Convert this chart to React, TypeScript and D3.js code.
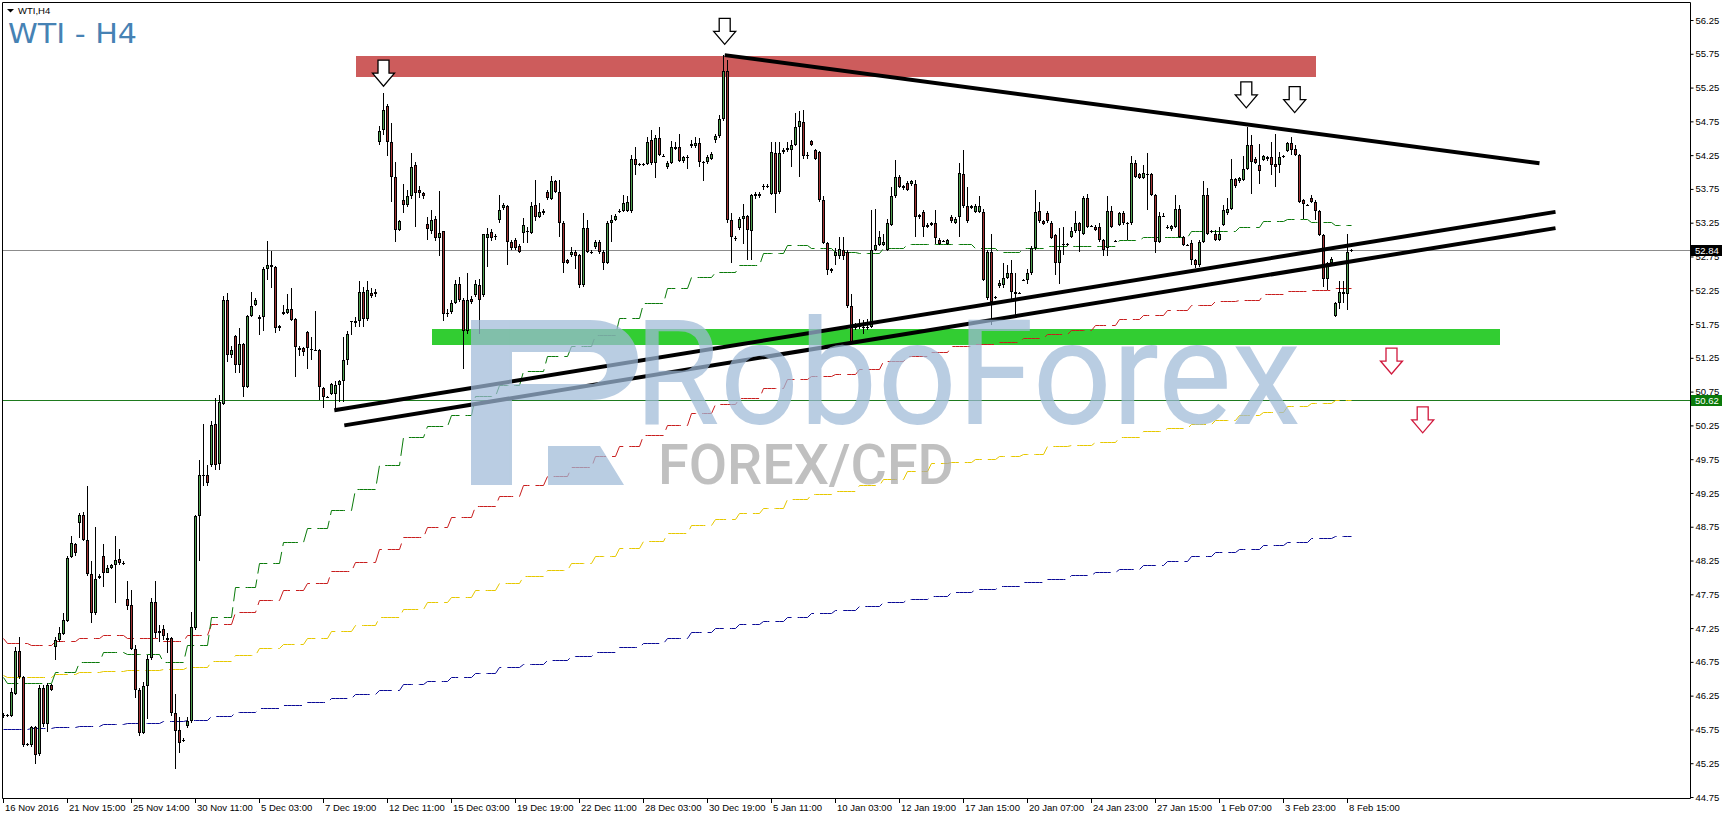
import { useEffect, useRef } from 'react';
import * as d3 from 'd3';

type Bar = [number, number, number, number]; // open, high, low, close

const W = 1729;
const H = 822;

// H4 bars, oldest first
const novBars: Bar[] = [
  [45.95, 45.99, 45.92, 45.97], [45.95, 45.98, 45.93, 45.96], [45.95, 46.36, 45.94, 46.30], [46.28, 46.97, 46.26, 46.91],
  [46.91, 47.12, 46.50, 46.53], [46.53, 46.54, 45.49, 45.52], [45.53, 45.55, 45.50, 45.52], [45.52, 45.80, 45.49, 45.79],
  [45.79, 45.80, 45.24, 45.37], [45.39, 46.41, 45.35, 46.37], [46.37, 46.41, 45.79, 45.83], [45.83, 46.43, 45.71, 46.41],
  [46.41, 46.42, 46.32, 46.33], [46.97, 47.12, 46.78, 47.08], [47.07, 47.27, 47.05, 47.18], [47.16, 47.48, 47.15, 47.37],
  [47.36, 48.31, 47.34, 48.28], [48.30, 48.61, 48.28, 48.51], [48.50, 48.51, 48.31, 48.36], [48.81, 48.96, 48.58, 48.92],
  [48.92, 48.97, 48.54, 48.56], [48.56, 49.35, 48.02, 48.05], [48.05, 48.25, 47.33, 47.47], [47.48, 48.74, 47.45, 47.97],
  [47.99, 48.05, 47.97, 48.02], [48.32, 48.49, 47.86, 48.07], [48.07, 48.18, 48.06, 48.14], [48.14, 48.20, 48.12, 48.18],
  [48.18, 48.61, 47.62, 48.26], [48.27, 48.42, 48.18, 48.21], [48.21, 48.24, 48.18, 48.21], [47.68, 47.94, 47.52, 47.57],
  [47.59, 47.81, 46.92, 46.94], [46.94, 47.00, 46.21, 46.33], [46.33, 46.36, 45.65, 45.70], [45.70, 46.45, 45.68, 46.40],
  [46.40, 46.85, 45.90, 46.79], [46.80, 47.70, 46.78, 47.64], [47.64, 47.94, 47.10, 47.17], [47.20, 47.30, 47.05, 47.18],
  [47.23, 47.30, 47.07, 47.14], [47.08, 47.17, 46.88, 47.11], [47.10, 47.12, 45.95, 45.99], [45.99, 46.27, 45.17, 45.73],
  [45.74, 45.93, 45.40, 45.55], [45.58, 45.62, 45.56, 45.60], [45.80, 45.93, 45.77, 45.88], [45.88, 47.49, 45.84, 47.26],
  [47.25, 48.92, 47.22, 48.91], [48.91, 49.74, 48.25, 49.52], [49.52, 50.27, 49.35, 49.50], [49.51, 49.66, 49.35, 49.39],
];

const decBars: Bar[] = [
  [49.66, 50.31, 49.64, 50.26], [50.27, 50.65, 49.59, 49.66], [49.68, 50.70, 49.59, 50.59], [50.57, 52.16, 50.55, 52.11],
  [52.11, 52.21, 51.19, 51.29], [51.29, 51.42, 51.25, 51.37], [51.57, 51.59, 51.03, 51.15], [51.15, 51.69, 51.02, 51.46],
  [51.46, 51.47, 50.67, 50.82], [50.82, 51.89, 50.81, 51.87], [51.87, 52.23, 51.86, 52.02], [52.03, 52.13, 52.01, 52.11],
  [51.86, 51.89, 51.59, 51.83], [51.85, 52.60, 51.64, 52.57], [52.56, 52.98, 52.40, 52.63], [52.63, 52.83, 52.29, 52.59],
  [52.59, 52.61, 51.62, 51.69], [51.69, 51.74, 51.65, 51.72], [51.90, 52.03, 51.88, 51.93], [51.92, 52.20, 51.90, 51.97],
  [51.98, 52.28, 51.80, 51.81], [51.82, 51.84, 50.97, 51.41], [51.39, 51.42, 51.28, 51.37], [51.39, 51.41, 51.27, 51.34],
  [51.63, 51.64, 51.09, 51.39], [51.38, 51.56, 51.22, 51.38], [51.37, 51.94, 51.35, 51.37], [51.37, 51.38, 50.63, 50.82],
  [50.81, 50.82, 50.51, 50.67], [50.67, 50.69, 50.65, 50.67], [50.72, 50.88, 50.70, 50.86], [50.72, 50.90, 50.48, 50.85],
  [50.85, 50.92, 50.60, 50.90], [50.90, 51.56, 50.60, 51.22], [51.22, 51.65, 51.15, 51.60], [51.78, 51.80, 51.59, 51.79],
  [51.80, 51.85, 51.70, 51.77], [51.79, 52.38, 51.71, 52.23], [52.23, 52.30, 51.71, 51.83], [51.83, 52.38, 51.80, 52.26],
  [52.21, 52.28, 52.14, 52.16], [52.20, 52.27, 52.15, 52.22], [54.45, 54.68, 54.40, 54.60], [54.62, 55.17, 54.55, 54.92],
  [54.97, 55.00, 54.23, 54.45], [54.45, 54.72, 53.56, 53.93], [53.93, 54.15, 52.97, 53.14], [53.14, 53.29, 53.12, 53.27],
  [53.59, 53.83, 53.39, 53.51], [53.51, 53.73, 53.48, 53.64], [53.64, 54.28, 53.60, 54.08], [54.10, 54.15, 53.19, 53.69],
  [53.74, 53.80, 53.62, 53.69], [53.69, 53.71, 53.60, 53.64], [53.23, 53.34, 53.00, 53.15], [53.12, 53.44, 53.08, 53.29],
  [53.30, 53.35, 52.98, 53.03], [53.03, 53.72, 52.75, 53.10], [53.12, 53.12, 51.79, 51.90], [51.90, 51.97, 51.85, 51.92],
  [51.93, 52.10, 51.90, 52.06], [52.06, 52.40, 52.04, 52.35], [52.35, 52.45, 52.08, 52.10], [52.10, 52.14, 51.08, 51.64],
  [51.64, 52.50, 51.60, 52.10], [52.12, 52.16, 52.04, 52.08], [52.18, 52.40, 52.15, 52.35], [52.33, 52.41, 51.61, 52.11],
  [52.18, 53.09, 52.15, 53.09], [53.02, 53.17, 52.60, 53.09], [53.11, 53.15, 52.98, 53.02], [53.05, 53.08, 53.00, 53.04],
  [53.29, 53.66, 53.25, 53.44], [53.47, 53.54, 53.44, 53.51], [53.50, 53.51, 52.62, 52.97], [52.97, 53.00, 52.85, 52.87],
  [53.00, 53.02, 52.84, 52.87], [52.90, 52.93, 52.80, 52.82], [53.10, 53.32, 52.95, 53.22], [53.12, 53.19, 52.95, 53.12],
  [53.10, 53.55, 53.08, 53.50], [53.51, 53.88, 53.27, 53.34], [53.34, 53.54, 53.32, 53.41], [53.39, 53.45, 53.37, 53.43],
  [53.71, 53.73, 53.58, 53.61], [53.60, 53.94, 53.58, 53.86], [53.86, 53.88, 53.69, 53.71], [53.70, 53.88, 53.04, 53.25],
  [53.25, 53.27, 52.50, 52.66], [52.70, 52.72, 52.64, 52.66], [52.77, 52.89, 52.74, 52.82], [52.82, 52.84, 52.57, 52.76],
  [52.77, 52.79, 52.28, 52.33], [52.33, 53.39, 52.30, 53.17], [53.17, 53.29, 52.80, 52.82], [52.81, 52.84, 52.78, 52.81],
  [52.89, 53.00, 52.86, 52.96], [52.97, 53.00, 52.79, 52.81], [52.82, 52.84, 52.55, 52.66], [52.66, 53.27, 52.64, 53.24],
  [53.24, 53.36, 52.97, 53.29], [53.29, 53.38, 53.27, 53.35], [53.42, 53.45, 53.40, 53.43], [53.43, 53.66, 53.41, 53.54],
  [53.43, 53.64, 53.41, 53.55], [53.43, 54.25, 53.40, 54.19], [54.20, 54.37, 53.96, 54.10], [54.11, 54.14, 54.09, 54.12],
  [54.12, 54.13, 54.09, 54.11], [54.12, 54.52, 54.10, 54.45], [54.47, 54.62, 54.10, 54.13], [54.13, 54.55, 53.91, 54.51],
  [54.51, 54.67, 54.23, 54.25], [54.24, 54.26, 54.22, 54.24], [54.07, 54.16, 54.05, 54.14], [54.14, 54.46, 54.12, 54.37],
  [54.37, 54.45, 54.33, 54.34], [54.37, 54.56, 54.15, 54.17], [54.17, 54.24, 54.13, 54.22], [54.22, 54.25, 54.05, 54.22],
  [54.38, 54.47, 54.35, 54.42], [54.38, 54.52, 54.36, 54.43], [54.43, 54.50, 54.08, 54.15], [54.15, 54.17, 53.86, 54.15],
  [54.15, 54.25, 54.12, 54.22], [54.20, 54.30, 54.18, 54.27],
];

const janBars: Bar[] = [
  [54.48, 54.57, 54.43, 54.53], [54.53, 54.84, 54.50, 54.79], [54.79, 55.73, 54.75, 55.49], [55.49, 55.66, 53.25, 53.29],
  [53.29, 53.39, 52.65, 53.04], [53.02, 53.05, 52.98, 53.02], [53.17, 53.33, 53.14, 53.31], [53.31, 53.53, 52.94, 53.35],
  [53.35, 53.37, 52.70, 53.14], [53.12, 53.68, 52.70, 53.66], [53.64, 53.70, 53.60, 53.68], [53.64, 53.71, 53.62, 53.68],
  [53.79, 53.83, 53.73, 53.80], [53.80, 53.82, 53.77, 53.80], [53.68, 54.45, 53.66, 54.29], [54.28, 54.45, 53.39, 53.68],
  [53.71, 54.45, 53.68, 54.28], [54.30, 54.35, 54.27, 54.32], [54.32, 54.45, 54.30, 54.36], [54.32, 54.47, 54.08, 54.40],
  [54.40, 54.87, 54.38, 54.67], [54.67, 54.91, 53.93, 54.76], [54.74, 54.92, 54.20, 54.24], [54.25, 54.30, 54.20, 54.25],
  [54.46, 54.47, 54.38, 54.40], [54.32, 54.34, 54.18, 54.20], [54.29, 54.31, 53.55, 53.59], [53.59, 53.64, 52.93, 52.95],
  [52.95, 52.97, 52.48, 52.55], [52.56, 52.58, 52.50, 52.54], [52.75, 52.87, 52.62, 52.82], [52.75, 53.04, 52.72, 52.86],
  [52.85, 53.04, 52.70, 52.75], [52.82, 52.85, 51.99, 52.01], [52.01, 52.20, 51.46, 51.49], [51.73, 51.76, 51.66, 51.69],
  [51.70, 51.83, 51.68, 51.72], [51.71, 51.81, 51.61, 51.71], [51.71, 51.83, 51.66, 51.71], [51.71, 53.44, 51.69, 52.85],
  [52.85, 53.45, 52.83, 52.92], [52.92, 53.12, 52.90, 53.04], [52.92, 53.09, 52.90, 52.97], [52.85, 53.31, 52.83, 53.24],
  [53.22, 53.78, 53.20, 53.64], [53.64, 54.18, 53.62, 53.93], [53.93, 53.96, 53.76, 53.78], [53.79, 53.81, 53.74, 53.77],
  [53.84, 53.86, 53.72, 53.74], [53.82, 53.88, 53.80, 53.86], [53.83, 53.88, 53.04, 53.34], [53.36, 53.38, 53.30, 53.33],
  [53.41, 53.44, 53.04, 53.19], [53.19, 53.24, 53.17, 53.22], [53.24, 53.26, 53.20, 53.22], [53.24, 53.44, 52.94, 53.02],
  [53.00, 53.02, 52.92, 52.94], [52.98, 53.00, 52.96, 52.98], [52.94, 53.01, 52.92, 52.99], [53.34, 53.36, 53.25, 53.27],
  [53.25, 53.33, 53.23, 53.31], [53.34, 54.13, 53.04, 53.98], [53.97, 54.32, 53.47, 53.49], [53.49, 53.78, 53.25, 53.27],
  [53.47, 53.51, 53.45, 53.49], [53.41, 53.52, 53.39, 53.49], [53.41, 53.64, 53.39, 53.49], [53.41, 53.46, 52.38, 52.40],
  [52.13, 52.85, 52.10, 52.82], [52.82, 53.08, 51.74, 52.07], [52.15, 52.17, 52.12, 52.15], [52.31, 52.40, 52.28, 52.36],
  [52.33, 52.65, 52.28, 52.43], [52.43, 52.62, 52.41, 52.50], [52.50, 52.70, 52.08, 52.23], [52.23, 52.50, 51.88, 52.20],
  [52.21, 52.23, 52.19, 52.21], [52.40, 52.42, 52.38, 52.40], [52.40, 52.57, 52.35, 52.50], [52.50, 52.90, 52.48, 52.87],
  [52.87, 53.73, 52.85, 53.41], [53.43, 53.56, 53.25, 53.27], [53.27, 53.29, 53.21, 53.23], [53.40, 53.42, 53.25, 53.27],
  [53.24, 53.27, 53.01, 53.03], [53.07, 53.09, 52.48, 52.66], [52.66, 53.17, 52.35, 52.85], [52.93, 53.19, 52.77, 52.93],
  [52.93, 52.95, 52.91, 52.93], [53.04, 53.19, 53.02, 53.13], [53.12, 53.43, 53.10, 53.24], [53.24, 53.26, 52.82, 53.12],
  [53.09, 53.64, 53.07, 53.61], [53.61, 53.68, 53.17, 53.19], [53.20, 53.22, 53.18, 53.20], [53.19, 53.21, 53.12, 53.14],
  [53.19, 53.24, 52.97, 52.99], [52.99, 53.01, 52.75, 52.85], [52.87, 53.64, 52.75, 53.43], [53.43, 53.49, 53.17, 53.19],
  [52.98, 53.00, 52.96, 52.98], [53.22, 53.41, 53.20, 53.40], [53.40, 53.42, 53.22, 53.24], [53.24, 53.26, 52.99, 53.24],
  [53.24, 54.23, 53.22, 54.14], [54.14, 54.18, 53.91, 53.93], [53.97, 53.99, 53.89, 53.91], [53.91, 54.10, 53.89, 53.98],
  [53.97, 54.28, 53.44, 53.97], [53.97, 53.99, 53.64, 53.66], [53.66, 53.68, 52.80, 52.97], [52.97, 53.41, 52.95, 53.35],
  [53.35, 53.40, 53.33, 53.35], [53.17, 53.21, 53.15, 53.19], [53.15, 53.22, 53.13, 53.20], [53.19, 53.66, 53.17, 53.45],
  [53.45, 53.51, 53.02, 53.04], [53.04, 53.06, 52.90, 52.92], [52.92, 52.94, 52.90, 52.92], [52.95, 53.00, 52.62, 52.70],
  [52.70, 52.72, 52.58, 52.62], [52.62, 53.00, 52.60, 52.97], [52.97, 53.86, 52.95, 53.66], [53.66, 53.77, 53.07, 53.09],
  [53.12, 53.14, 53.10, 53.12],
];

const febBars: Bar[] = [
  [53.09, 53.14, 52.98, 53.00], [53.00, 53.19, 52.98, 53.09], [53.22, 53.51, 53.20, 53.44], [53.39, 53.61, 53.37, 53.46],
  [53.46, 54.20, 53.44, 53.89], [53.89, 53.91, 53.77, 53.79], [53.86, 53.93, 53.84, 53.91], [53.88, 54.23, 53.86, 54.05],
  [54.05, 54.67, 54.03, 54.40], [54.40, 54.55, 53.68, 54.15], [54.20, 54.22, 54.12, 54.14], [54.10, 54.42, 53.83, 54.01],
  [54.18, 54.25, 54.16, 54.23], [54.22, 54.24, 54.17, 54.19], [54.22, 54.45, 53.95, 54.10], [54.12, 54.57, 53.78, 54.07],
  [54.10, 54.30, 53.98, 54.22], [54.23, 54.25, 54.21, 54.23], [54.31, 54.45, 54.29, 54.43], [54.43, 54.52, 54.25, 54.33],
  [54.34, 54.40, 54.23, 54.25], [54.25, 54.27, 53.54, 53.56], [53.58, 53.60, 53.31, 53.53], [53.51, 53.53, 53.49, 53.51],
  [53.61, 53.66, 53.54, 53.56], [53.56, 53.58, 53.29, 53.43], [53.42, 53.44, 53.05, 53.07], [53.07, 53.09, 52.30, 52.41],
  [52.41, 52.67, 52.25, 52.65], [52.65, 52.74, 52.62, 52.71], [51.87, 52.08, 51.85, 52.06], [52.06, 52.38, 51.98, 52.23],
  [52.20, 52.38, 52.06, 52.23], [52.20, 53.08, 51.96, 52.82], [52.84, 52.86, 52.82, 52.84],
];

// time axis, one label every 16 bars
const timeLabels = [
  '16 Nov 2016', '21 Nov 15:00', '25 Nov 14:00', '30 Nov 11:00', '5 Dec 03:00', '7 Dec 19:00', '12 Dec 11:00',
  '15 Dec 03:00', '19 Dec 19:00', '22 Dec 11:00', '28 Dec 03:00', '30 Dec 19:00', '5 Jan 11:00', '10 Jan 03:00',
  '12 Jan 19:00', '17 Jan 15:00', '20 Jan 07:00', '24 Jan 23:00', '27 Jan 15:00', '1 Feb 07:00', '3 Feb 23:00',
  '8 Feb 15:00',
];
const labelStep = 16;

const priceTicks = [
  44.75, 45.25, 45.75, 46.25, 46.75, 47.25, 47.75, 48.25, 48.75, 49.25, 49.75, 50.25,
  50.75, 51.25, 51.75, 52.25, 52.75, 53.25, 53.75, 54.25, 54.75, 55.25, 55.75, 56.25,
];

// first bar of each trading day (the daily averages step there)
const dayStarts = [
  0, 1, 7, 13, 19, 25, 31, 34, 40, 46, 52, 58, 64, 70, 76, 82, 88, 94, 100, 106, 112, 118, 124, 130, 136, 142, 148,
  154, 160, 166, 172, 178, 184, 190, 196, 202, 208, 214, 220, 226, 232, 237, 243, 249, 255, 261, 267, 273, 279, 285,
  291, 297, 303, 309, 315, 321, 327, 333,
];

const maGreen = [
  46.53, 46.43, 46.43, 46.60, 46.75, 46.89, 46.87, 46.87, 46.75, 47.00, 47.42, 47.86, 48.22, 48.52, 48.73, 49.00,
  49.31, 49.67, 50.08, 50.24, 50.40, 50.68, 50.85, 51.05, 51.28, 51.42, 51.59, 51.84, 52.06, 52.28, 52.45, 52.52,
  52.62, 52.80, 52.92, 52.87, 52.82, 52.80, 52.87, 52.94, 52.94, 52.94, 52.87, 52.82, 52.87, 52.90, 52.90, 52.90,
  53.00, 53.04, 53.04, 53.12, 53.12, 53.19, 53.28, 53.31, 53.26, 53.22,
];
const maRed = [
  47.10, 47.03, 47.00, 47.06, 47.10, 47.15, 47.11, 47.11, 47.06, 47.15, 47.31, 47.49, 47.67, 47.81, 47.91, 48.09,
  48.23, 48.42, 48.60, 48.75, 48.90, 49.05, 49.20, 49.37, 49.50, 49.64, 49.79, 49.95, 50.11, 50.26, 50.43, 50.57,
  50.65, 50.80, 50.93, 50.98, 51.01, 51.09, 51.20, 51.27, 51.34, 51.42, 51.46, 51.49, 51.55, 51.61, 51.66, 51.74,
  51.82, 51.88, 51.96, 52.03, 52.09, 52.11, 52.20, 52.24, 52.25, 52.28,
];
const maYellow = [
  46.55, 46.53, 46.52, 46.57, 46.60, 46.62, 46.63, 46.63, 46.64, 46.68, 46.76, 46.85, 46.95, 47.02, 47.11, 47.20,
  47.30, 47.42, 47.53, 47.64, 47.71, 47.82, 47.92, 48.02, 48.11, 48.21, 48.31, 48.43, 48.54, 48.65, 48.77, 48.86,
  48.95, 49.02, 49.16, 49.23, 49.28, 49.37, 49.45, 49.58, 49.69, 49.71, 49.75, 49.80, 49.83, 49.94, 49.96, 50.01,
  50.08, 50.16, 50.21, 50.27, 50.33, 50.40, 50.45, 50.54, 50.58, 50.62,
];
const maBlue = [
  45.75, 45.75, 45.77, 45.78, 45.80, 45.83, 45.84, 45.85, 45.87, 45.89, 45.95, 46.01, 46.06, 46.11, 46.16, 46.21,
  46.27, 46.34, 46.42, 46.47, 46.53, 46.58, 46.67, 46.72, 46.78, 46.84, 46.90, 46.97, 47.03, 47.11, 47.19, 47.25,
  47.31, 47.36, 47.42, 47.47, 47.52, 47.58, 47.63, 47.68, 47.73, 47.78, 47.83, 47.88, 47.93, 47.98, 48.03, 48.08,
  48.13, 48.19, 48.25, 48.31, 48.37, 48.42, 48.48, 48.53, 48.58, 48.62,
];

const bidPrice = 52.84;
const levelPrice = 50.62;

// drawn objects, in bar index / price
const resistanceZone = { fromBar: 88, toBar: 328, low: 55.4, high: 55.71 };
const supportZone = { fromBar: 107, toBar: 374, low: 51.43, high: 51.67 };
const trendLines = [
  { bar1: 180.3, price1: 55.73, bar2: 384, price2: 54.13 },
  { bar1: 82.7, price1: 50.475, bar2: 388, price2: 53.41 },
  { bar1: 85.2, price1: 50.25, bar2: 388, price2: 53.17 },
];
const topArrows = [
  { bar: 95, price: 55.27 },
  { bar: 180.3, price: 55.89 },
  { bar: 310.7, price: 54.95 },
  { bar: 322.8, price: 54.88 },
];
const targetArrows = [
  { bar: 347, price: 51.01 },
  { bar: 354.8, price: 50.14 },
];

const bars: Bar[] = [...novBars, ...decBars, ...janBars, ...febBars];

const AXIS_FONT = "'Liberation Sans', Arial, sans-serif";

function arrowPath(cx: number, tip: number) {
  return `M${cx - 5.5},${tip - 26} H${cx + 5.5} V${tip - 13} H${cx + 11} L${cx},${tip} L${cx - 11},${tip - 13} H${cx - 5.5} Z`;
}

export default function App() {
  const ref = useRef<SVGSVGElement>(null);

  useEffect(() => {
    if (!ref.current) return;
    const svg = d3.select(ref.current);
    svg.selectAll('*').remove();

    const left = 2;
    const top = 2;
    const right = 1690;
    const bottom = 798;

    const x = d3.scaleLinear().domain([0, 1]).range([3.5, 7.5]);
    const y = d3.scaleLinear().domain([44.75, 56.25]).range([797, 20]);

    svg.append('rect').attr('width', W).attr('height', H).attr('fill', '#fff');

    svg
      .append('defs')
      .append('clipPath')
      .attr('id', 'plot-clip')
      .append('rect')
      .attr('x', left + 1)
      .attr('y', top + 1)
      .attr('width', right - left - 1)
      .attr('height', bottom - top - 1);

    const plot = svg.append('g').attr('clip-path', 'url(#plot-clip)');

    // zones (background objects)
    const zone = (z: typeof resistanceZone, color: string) =>
      plot
        .append('rect')
        .attr('x', Math.round(x(z.fromBar)))
        .attr('y', Math.round(y(z.high)))
        .attr('width', Math.round(x(z.toBar) - x(z.fromBar)))
        .attr('height', Math.round(y(z.low) - y(z.high)))
        .attr('fill', color);
    zone(resistanceZone, '#cd5c5c');
    zone(supportZone, '#32cd32');

    // horizontal lines
    plot
      .append('line')
      .attr('x1', left)
      .attr('x2', right)
      .attr('y1', Math.round(y(bidPrice)) + 0.5)
      .attr('y2', Math.round(y(bidPrice)) + 0.5)
      .attr('stroke', '#8c8c8c');
    plot
      .append('line')
      .attr('x1', left)
      .attr('x2', right)
      .attr('y1', Math.round(y(levelPrice)) + 0.5)
      .attr('y2', Math.round(y(levelPrice)) + 0.5)
      .attr('stroke', '#1e7a1e');

    // daily moving averages, stepped on H4 bars
    const dayOf = d3.bisector((d: number) => d).right;
    const maLine = d3
      .line<number>()
      .x((_, i) => x(i))
      .y((v) => Math.round(y(v)) + 0.5);
    const drawMa = (values: number[], color: string) => {
      const perBar = bars.map((_, i) => values[dayOf(dayStarts, i) - 1]);
      plot
        .append('path')
        .datum(perBar)
        .attr('d', maLine)
        .attr('fill', 'none')
        .attr('stroke', color)
        .attr('stroke-width', 1)
        .attr('stroke-dasharray', '18,6');
    };
    drawMa(maBlue, '#0a0a96');
    drawMa(maYellow, '#e6c800');
    drawMa(maRed, '#c81e1e');
    drawMa(maGreen, '#0a7a0a');

    // candles
    const candles = plot.append('g');
    bars.forEach(([o, h, l, c], i) => {
      const cx = Math.floor(x(i));
      const yh = Math.round(y(h));
      const yl = Math.round(y(l));
      candles
        .append('rect')
        .attr('x', cx)
        .attr('y', yh)
        .attr('width', 1)
        .attr('height', Math.max(1, yl - yh))
        .attr('fill', '#000');
      const yt = Math.round(y(Math.max(o, c)));
      const yb = Math.round(y(Math.min(o, c)));
      const bh = Math.max(1, yb - yt);
      candles
        .append('rect')
        .attr('x', cx - 1)
        .attr('y', yt)
        .attr('width', 3)
        .attr('height', bh)
        .attr('fill', '#000');
      if (bh > 2) {
        candles
          .append('rect')
          .attr('x', cx)
          .attr('y', yt + 1)
          .attr('width', 1)
          .attr('height', bh - 2)
          .attr('fill', c >= o ? '#4f9f4f' : '#a03232');
      }
    });

    // trend lines
    trendLines.forEach((t) => {
      plot
        .append('line')
        .attr('x1', x(t.bar1))
        .attr('y1', y(t.price1))
        .attr('x2', x(t.bar2))
        .attr('y2', y(t.price2))
        .attr('stroke', '#000')
        .attr('stroke-width', 4);
    });

    // arrows
    topArrows.forEach((a) => {
      plot
        .append('path')
        .attr('d', arrowPath(x(a.bar), y(a.price)))
        .attr('fill', '#fff')
        .attr('stroke', '#000')
        .attr('stroke-width', 1.3);
    });
    targetArrows.forEach((a) => {
      plot
        .append('path')
        .attr('d', arrowPath(x(a.bar), y(a.price)))
        .attr('fill', '#fff')
        .attr('stroke', '#d0183c')
        .attr('stroke-width', 1.3);
    });

    // watermark
    const wm = svg.append('g').attr('opacity', 0.72);
    wm.append('path')
      .attr(
        'd',
        'M471,320 H590 C620,320 638,338 638,360 C638,382 620,400 590,400 H512 V485 H471 Z ' +
          'M512,352 H590 C600,352 607,359 607,368 C607,377 600,384 590,384 H512 Z ' +
          'M548,446 H600 L624,485 H548 Z'
      )
      .attr('fill-rule', 'evenodd')
      .attr('fill', '#9fbad8');
    wm.append('text')
      .attr('x', 634)
      .attr('y', 424)
      .attr('font-family', 'Roboto, sans-serif')
      .attr('font-size', 146)
      .attr('textLength', 667)
      .attr('lengthAdjust', 'spacingAndGlyphs')
      .attr('fill', '#9fbad8')
      .text('RoboForex');
    wm.append('text')
      .attr('x', 658)
      .attr('y', 484)
      .attr('font-family', 'Roboto, sans-serif')
      .attr('font-weight', 500)
      .attr('font-size', 56)
      .attr('textLength', 296)
      .attr('lengthAdjust', 'spacingAndGlyphs')
      .attr('fill', '#a9a9a9')
      .text('FOREX/CFD');

    // frame
    svg
      .append('path')
      .attr('d', `M${left + 0.5},${bottom + 0.5} V${top + 0.5} H${right + 0.5} V${bottom + 0.5} Z`)
      .attr('fill', 'none')
      .attr('stroke', '#000');

    // price axis
    const axis = svg
      .append('g')
      .attr('transform', `translate(${right + 0.5},0)`)
      .call(
        d3
          .axisRight(y)
          .tickValues(priceTicks)
          .tickFormat((d) => d3.format('.2f')(d as number))
          .tickSize(3)
          .tickPadding(2)
      );
    axis.select('.domain').remove();
    axis.selectAll('line').attr('stroke', '#000');
    axis
      .selectAll('text')
      .attr('font-family', AXIS_FONT)
      .attr('font-size', 9.5)
      .attr('fill', '#000');

    const priceBox = (price: number, bg: string) => {
      const cy = Math.round(y(price));
      svg
        .append('rect')
        .attr('x', right + 1)
        .attr('y', cy - 5)
        .attr('width', 31)
        .attr('height', 11)
        .attr('fill', bg);
      svg
        .append('text')
        .attr('x', right + 5)
        .attr('y', cy + 4)
        .attr('font-family', AXIS_FONT)
        .attr('font-size', 9.5)
        .attr('fill', '#fff')
        .text(d3.format('.2f')(price));
    };
    priceBox(bidPrice, '#000');
    priceBox(levelPrice, '#0a7a0a');

    // time axis
    const timeAxis = svg.append('g');
    timeLabels.forEach((label, k) => {
      const tx = Math.floor(x(k * labelStep));
      timeAxis
        .append('rect')
        .attr('x', tx)
        .attr('y', bottom + 1)
        .attr('width', 1)
        .attr('height', 4)
        .attr('fill', '#000');
      timeAxis
        .append('text')
        .attr('x', tx + 2)
        .attr('y', bottom + 13)
        .attr('font-family', AXIS_FONT)
        .attr('font-size', 9.5)
        .attr('fill', '#000')
        .text(label);
    });

    // titles
    svg.append('path').attr('d', 'M7,9 H14 L10.5,12.5 Z').attr('fill', '#000');
    svg
      .append('text')
      .attr('x', 18)
      .attr('y', 14)
      .attr('font-family', AXIS_FONT)
      .attr('font-size', 9.5)
      .attr('fill', '#000')
      .text('WTI,H4');
    svg
      .append('text')
      .attr('x', 8)
      .attr('y', 43)
      .attr('font-family', "'DejaVu Sans', sans-serif")
      .attr('font-size', 27)
      .attr('textLength', 129)
      .attr('lengthAdjust', 'spacingAndGlyphs')
      .attr('fill', '#4682b4')
      .text('WTI - H4');
  }, []);

  return (
    <div style={{ position: 'absolute', left: 0, top: 0 }}>
      <svg ref={ref} width={W} height={H} />
    </div>
  );
}
